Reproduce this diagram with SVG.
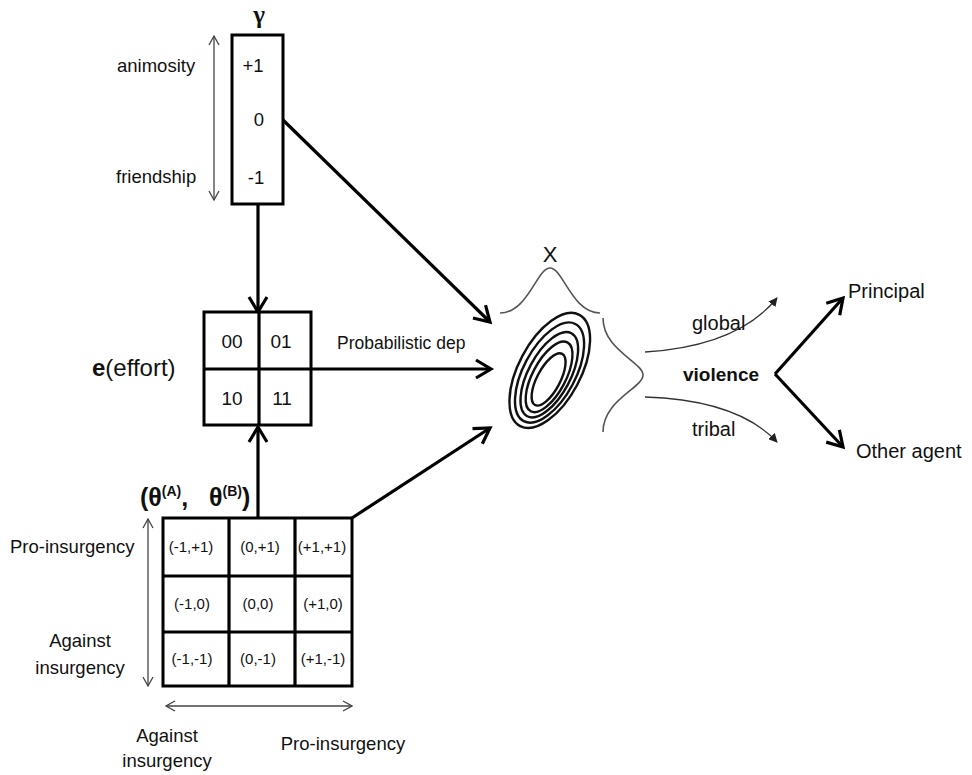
<svg xmlns="http://www.w3.org/2000/svg" width="972" height="775" viewBox="0 0 972 775">
<style>
text{font-family:"Liberation Sans",Arial,sans-serif;fill:#111}
.box{fill:#fff;stroke:#000;stroke-width:3}
.thick{stroke:#000;stroke-width:3.2;fill:none}
.thin{stroke:#444;stroke-width:1.3;fill:none}
.curve{stroke:#333;stroke-width:1.3;fill:none}
.bell{stroke:#555;stroke-width:1.6;fill:none}
.ell{stroke:#111;stroke-width:2.4;fill:none}
.lbl{font-size:18.5px}
.cell{font-size:15px;text-anchor:middle}
.num{font-size:19px;text-anchor:middle}
</style>
<defs>
<marker id="ah" viewBox="0 0 24 24" refX="20" refY="12" markerWidth="24" markerHeight="24" markerUnits="userSpaceOnUse" orient="auto">
<path d="M5,3 L20,12 L5,21" fill="none" stroke="#000" stroke-width="3.2"/>
</marker>
<marker id="tah" viewBox="0 0 12 12" refX="11" refY="6" markerWidth="12" markerHeight="12" markerUnits="userSpaceOnUse" orient="auto-start-reverse">
<path d="M2,1 L11,6 L2,11" fill="none" stroke="#444" stroke-width="1.3"/>
</marker>
<marker id="sah" viewBox="0 0 10 10" refX="9" refY="5" markerWidth="9" markerHeight="9" markerUnits="userSpaceOnUse" orient="auto">
<path d="M0,0 L10,5 L0,10 z" fill="#222"/>
</marker>
</defs>

<g id="connectors">
<line class="thick" x1="258" y1="204" x2="258" y2="312" marker-end="url(#ah)"/>
<line class="thick" x1="258" y1="518" x2="258" y2="427" marker-end="url(#ah)"/>
<line class="thick" x1="283" y1="120" x2="490" y2="322" marker-end="url(#ah)"/>
<line class="thick" x1="311" y1="369" x2="491" y2="369" marker-end="url(#ah)"/>
<line class="thick" x1="352" y1="518" x2="490" y2="428" marker-end="url(#ah)"/>
<line class="thick" x1="775" y1="374" x2="843" y2="298" marker-end="url(#ah)"/>
<line class="thick" x1="775" y1="374" x2="843" y2="447" marker-end="url(#ah)"/>
<path class="curve" d="M645,352 Q738,346 777,298" marker-end="url(#sah)"/>
<path class="curve" d="M645,397 Q738,400 777,442" marker-end="url(#sah)"/>
<line class="thin" x1="214" y1="36" x2="214" y2="200" marker-start="url(#tah)" marker-end="url(#tah)"/>
<line class="thin" x1="148" y1="519" x2="148" y2="686" marker-start="url(#tah)" marker-end="url(#tah)"/>
<line class="thin" x1="166" y1="706" x2="352" y2="706" marker-start="url(#tah)" marker-end="url(#tah)"/>
</g>

<g id="gamma">
<text x="259" y="23" font-size="25" font-weight="bold" text-anchor="middle" style="font-family:'Liberation Serif',serif">γ</text>
<rect class="box" x="232" y="35" width="51" height="169"/>
<text class="lbl" x="253" y="72" text-anchor="middle">+1</text>
<text class="lbl" x="259" y="126" text-anchor="middle">0</text>
<text class="lbl" x="256" y="184" text-anchor="middle">-1</text>
<text class="lbl" x="117" y="72">animosity</text>
<text class="lbl" x="116" y="183">friendship</text>
</g>

<g id="effort">
<rect class="box" x="204" y="312" width="107" height="113"/>
<line class="thick" x1="259" y1="312" x2="259" y2="425"/>
<line class="thick" x1="204" y1="369" x2="311" y2="369"/>
<text class="num" x="232" y="348">00</text>
<text class="num" x="281" y="348">01</text>
<text class="num" x="232" y="405">10</text>
<text class="num" x="282" y="405">11</text>
<text x="92" y="376" font-size="24"><tspan font-weight="bold">e</tspan>(effort)</text>
<text x="337" y="349" font-size="17.5">Probabilistic dep</text>
</g>

<g id="theta">
<rect class="box" x="163" y="518" width="189" height="168"/>
<line class="thick" x1="229" y1="518" x2="229" y2="686"/>
<line class="thick" x1="295" y1="518" x2="295" y2="686"/>
<line class="thick" x1="163" y1="576" x2="352" y2="576"/>
<line class="thick" x1="163" y1="632" x2="352" y2="632"/>
<text x="140" y="506" font-size="25" font-weight="bold" xml:space="preserve">(θ<tspan font-size="14" dy="-10">(A)</tspan><tspan dy="10">,   θ</tspan><tspan font-size="14" dy="-10">(B)</tspan><tspan dy="10">)</tspan></text>
<text class="cell" x="191" y="552">(-1,+1)</text>
<text class="cell" x="260" y="552">(0,+1)</text>
<text class="cell" x="322" y="552">(+1,+1)</text>
<text class="cell" x="192" y="609">(-1,0)</text>
<text class="cell" x="258" y="609">(0,0)</text>
<text class="cell" x="323" y="609">(+1,0)</text>
<text class="cell" x="192" y="664">(-1,-1)</text>
<text class="cell" x="258" y="664">(0,-1)</text>
<text class="cell" x="323" y="664">(+1,-1)</text>
<text class="lbl" x="10" y="553">Pro-insurgency</text>
<text class="lbl" x="80" y="647" text-anchor="middle">Against</text>
<text class="lbl" x="80" y="674" text-anchor="middle">insurgency</text>
<text class="lbl" x="167" y="742" text-anchor="middle">Against</text>
<text class="lbl" x="167" y="767" text-anchor="middle">insurgency</text>
<text class="lbl" x="343" y="750" text-anchor="middle">Pro-insurgency</text>
</g>

<g id="X">
<text x="550" y="262" font-size="22" text-anchor="middle" fill="#222">X</text>
<path class="bell" d="M500,313 C528,313 537,268 550,268 C563,268 572,313 600,313"/>
<path class="bell" d="M603,318 C603,350 643,362 643,375 C643,388 603,400 603,432"/>
<g transform="rotate(28 550 370)">
<ellipse class="ell" cx="550" cy="370.5" rx="31" ry="63"/>
<ellipse class="ell" cx="550.8" cy="372.5" rx="26" ry="55"/>
<ellipse class="ell" cx="551.6" cy="374.5" rx="21" ry="47"/>
<ellipse class="ell" cx="552.4" cy="376.5" rx="16.5" ry="39"/>
<ellipse class="ell" cx="553.2" cy="379" rx="11.5" ry="29"/>
</g>
</g>

<g id="violence">
<text x="683" y="381" font-size="19" font-weight="bold">violence</text>
<text x="692" y="330" font-size="20">global</text>
<text x="692" y="436" font-size="20">tribal</text>
</g>
<g id="principal"><text x="848" y="298" font-size="20">Principal</text></g>
<g id="other"><text x="856" y="458" font-size="20">Other agent</text></g>
</svg>
